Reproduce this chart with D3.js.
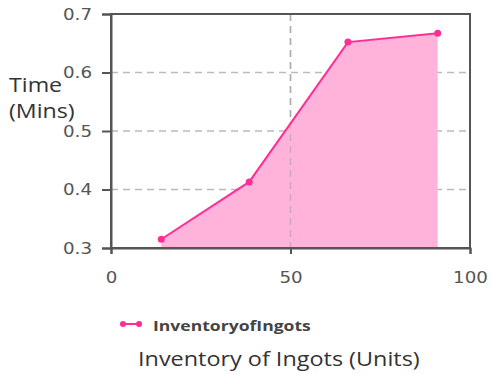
<!DOCTYPE html>
<html>
<head>
<meta charset="utf-8">
<script src="https://cdn.jsdelivr.net/npm/d3@7"></script>
<style>
  body { margin: 0; background: #fff; }
  .content { width: 492px; height: 374px; }
  text { font-family: "DejaVu Sans", Verdana, sans-serif; }
</style>
</head>
<body>
<div class="content"></div>
<script>
// data
var inventory = [14, 38.5, 66, 91];
var timeMins = [0.315, 0.413, 0.652, 0.667];
var xTicks = [0, 50, 100];
var yTicks = [0.3, 0.4, 0.5, 0.6, 0.7];
var seriesName = 'InventoryofIngots';

var data = inventory.map(function (v, i) {
  return { x: v, y: timeMins[i] };
});

var svg = d3.select('.content')
  .append('svg')
  .attr('width', 492)
  .attr('height', 374);

var margin = {left: 111, top: 14, right: 22, bottom: 126},
  width = 492 - margin.left - margin.right,
  height = 374 - margin.top - margin.bottom;

var g = svg.append('g')
  .attr('transform', 'translate(' + margin.left + ',' + margin.top + ')');

var x = d3.scaleLinear().domain([0, 100]).range([0, width]);
var y = d3.scaleLinear().domain([0.3, 0.7]).range([height, 0]);

// stretch a text to the width seen in the picture
function stretch(sel, factor) {
  sel.each(function () {
    var w = this.getComputedTextLength();
    d3.select(this)
      .attr('textLength', w * factor)
      .attr('lengthAdjust', 'spacingAndGlyphs');
  });
}

// grid
g.selectAll('.hgrid')
  .data(yTicks.slice(1, -1))
  .enter().append('line')
  .attr('x1', 0).attr('x2', width)
  .attr('y1', function (d) { return y(d); })
  .attr('y2', function (d) { return y(d); })
  .attr('stroke', '#bbb')
  .attr('stroke-width', 1.5)
  .attr('stroke-dasharray', '7,5');

g.selectAll('.vgrid')
  .data(xTicks.slice(1, -1))
  .enter().append('line')
  .attr('y1', 0).attr('y2', height)
  .attr('x1', function (d) { return x(d); })
  .attr('x2', function (d) { return x(d); })
  .attr('stroke', '#bbb')
  .attr('stroke-width', 1.5)
  .attr('stroke-dasharray', '7,5');

var area = d3.area()
  .x(function (d) { return x(d.x); })
  .y0(y(0.3))
  .y1(function (d) { return y(d.y); });

var line = d3.line()
  .x(function (d) { return x(d.x); })
  .y(function (d) { return y(d.y); });

g.append('path')
  .datum(data)
  .attr('d', area)
  .attr('fill', '#ffb3db');

// vertical grid shows faintly through the fill
g.selectAll('.vgrid2')
  .data(xTicks.slice(1, -1))
  .enter().append('line')
  .attr('y1', 0).attr('y2', height)
  .attr('x1', function (d) { return x(d); })
  .attr('x2', function (d) { return x(d); })
  .attr('stroke', '#a8a0a8')
  .attr('stroke-opacity', 0.6)
  .attr('stroke-width', 1.5)
  .attr('stroke-dasharray', '7,5');

g.append('path')
  .datum(data)
  .attr('d', line)
  .attr('fill', 'none')
  .attr('stroke', '#ff2e97')
  .attr('stroke-width', 2);

g.selectAll('.pt')
  .data(data)
  .enter().append('circle')
  .attr('cx', function (d) { return x(d.x); })
  .attr('cy', function (d) { return y(d.y); })
  .attr('r', 3.5)
  .attr('fill', '#ff2e97');

// frame
g.append('rect')
  .attr('width', width)
  .attr('height', height)
  .attr('fill', 'none')
  .attr('stroke', '#555')
  .attr('stroke-width', 2);

var axisX = g.append('g')
  .attr('transform', 'translate(0,' + height + ')')
  .call(d3.axisBottom(x).tickValues(xTicks).tickSize(6).tickPadding(18).tickFormat(d3.format('d')));

var axisY = g.append('g')
  .call(d3.axisLeft(y).tickValues(yTicks).tickSize(9).tickPadding(10).tickFormat(d3.format('.1f')));

[axisX, axisY].forEach(function (a) {
  a.select('.domain').attr('stroke', '#555').attr('stroke-width', 2);
  a.selectAll('line').attr('stroke', '#555').attr('stroke-width', 2);
  a.selectAll('text')
    .style('font-size', '16px')
    .style('font-family', '"DejaVu Sans", Verdana, sans-serif')
    .attr('fill', '#555')
    .call(stretch, 1.14);
});

// y title
var yTitle = svg.append('text')
  .attr('x', 9)
  .attr('y', 92)
  .style('font-family', '"Open Sans", sans-serif')
  .style('font-size', '20px')
  .attr('fill', '#333');
yTitle.append('tspan').attr('x', 9).text('Time');
yTitle.append('tspan').attr('x', 9).attr('dy', 26).text('(Mins)');
yTitle.selectAll('tspan').call(stretch, 1.16);

// legend
var legend = svg.append('g').attr('transform', 'translate(120,324)');
legend.append('line')
  .attr('x1', 0).attr('x2', 22)
  .attr('stroke', '#ff2e97').attr('stroke-width', 2);
legend.selectAll('circle')
  .data([3, 19])
  .enter().append('circle')
  .attr('cx', function (d) { return d; })
  .attr('r', 3)
  .attr('fill', '#ff2e97');
legend.append('text')
  .attr('x', 33)
  .attr('y', 7)
  .style('font-family', '"Open Sans", sans-serif')
  .style('font-size', '15px')
  .style('font-weight', 'bold')
  .attr('fill', '#444')
  .text(seriesName)
  .call(stretch, 1.17);

// x title
svg.append('text')
  .attr('x', 138)
  .attr('y', 366)
  .style('font-family', '"Open Sans", sans-serif')
  .style('font-size', '20px')
  .attr('fill', '#333')
  .text('Inventory of Ingots (Units)')
  .call(stretch, 1.17);
</script>
</body>
</html>
